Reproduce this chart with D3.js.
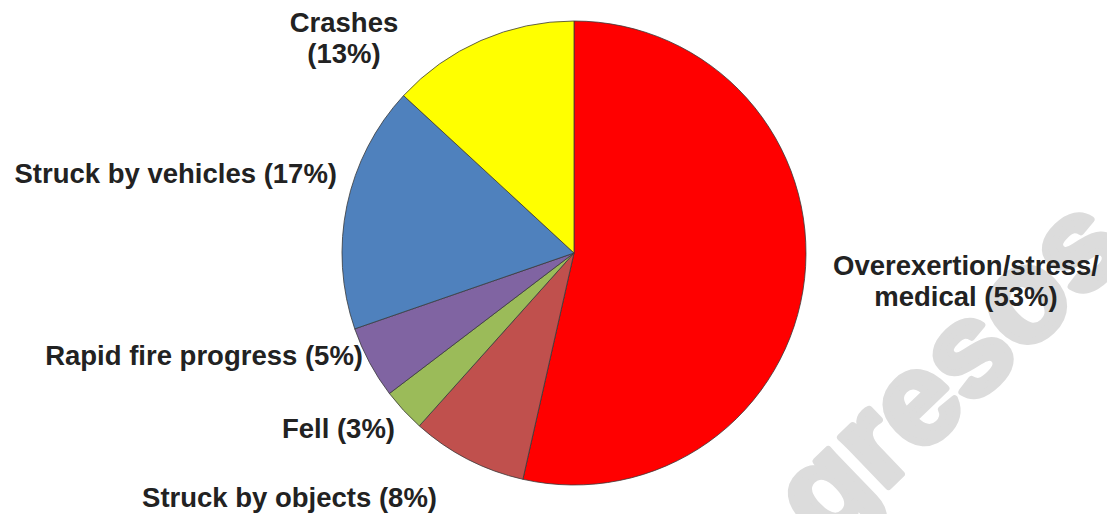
<!DOCTYPE html>
<html>
<head>
<meta charset="utf-8">
<script src="https://cdn.jsdelivr.net/npm/d3@7"></script>
<style>
  body { margin: 0; background: #fff; }
  svg { display: block; }
</style>
</head>
<body>
<svg width="1107" height="514"></svg>
<script>
const width = 1107, height = 514;

// slices, clockwise from 12 o'clock
const causes = ["Overexertion/stress/ medical", "Struck by objects", "Fell", "Rapid fire progress", "Struck by vehicles", "Crashes"];
const shares = [53, 8, 3, 5, 17, 13];
const sliceColors = ["#ff0000", "#c0504d", "#9bbb59", "#8064a2", "#4f81bd", "#ffff00"];

// hand placed labels, like the original
const labelSpots = [
  { lines: ["Overexertion/stress/", "medical (53%)"], x: 966, y: 275, anchor: "middle" },
  { lines: ["Struck by objects (8%)"], x: 437, y: 507, anchor: "end" },
  { lines: ["Fell (3%)"], x: 395, y: 438, anchor: "end" },
  { lines: ["Rapid fire progress (5%)"], x: 363, y: 365, anchor: "end" },
  { lines: ["Struck by vehicles (17%)"], x: 337, y: 183, anchor: "end" },
  { lines: ["Crashes", "(13%)"], x: 344, y: 32, anchor: "middle" }
];

const cx = 574, cy = 253, radius = 232;

const svg = d3.select("svg");

// faint watermark behind the labels
svg.append("text")
  .attr("transform", "translate(825,548) rotate(-44)")
  .attr("font-family", "Liberation Sans, Arial, sans-serif")
  .attr("font-weight", "bold")
  .attr("font-size", "130px")
  .attr("fill", "#dcdcdc")
  .attr("stroke", "#dcdcdc")
  .attr("stroke-width", 7)
  .attr("stroke-linejoin", "round")
  .text("gresos");

const pie = d3.pie().sort(null).value(d => d);
const arc = d3.arc().innerRadius(0).outerRadius(radius);

const g = svg.append("g").attr("transform", `translate(${cx},${cy})`);

g.selectAll("path")
  .data(pie(shares))
  .enter().append("path")
  .attr("d", arc)
  .attr("fill", (d, i) => sliceColors[i])
  .attr("stroke", "#3a3a3a")
  .attr("stroke-width", 0.8);

// labels
labelSpots.forEach(l => {
  const t = svg.append("text")
    .attr("x", l.x).attr("y", l.y)
    .attr("text-anchor", l.anchor)
    .attr("font-family", "Liberation Sans, Arial, sans-serif")
    .attr("font-weight", "bold")
    .attr("font-size", "27.5px")
    .attr("fill", "#222");
  l.lines.forEach((s, i) => {
    t.append("tspan").attr("x", l.x).attr("dy", i === 0 ? 0 : 31).text(s);
  });
});
</script>
</body>
</html>
